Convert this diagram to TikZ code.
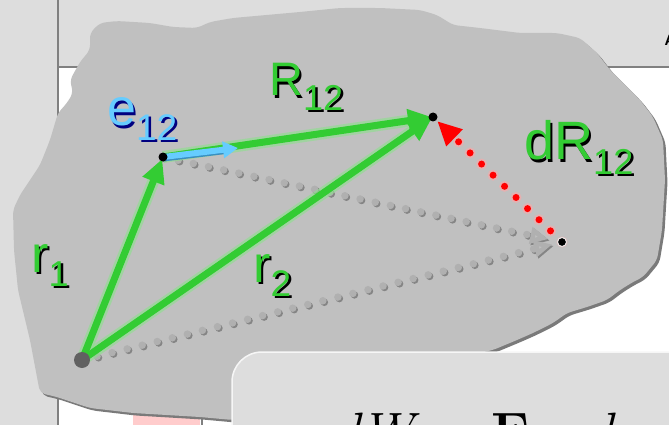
\documentclass[tikz,border=0pt]{standalone}
\usepackage{fontspec}
\setsansfont{Liberation Sans}
\usepackage{xcolor}
\usetikzlibrary{arrows.meta}

\definecolor{panel}{HTML}{DDDDDD}
\definecolor{rule}{HTML}{808080}
\definecolor{rock}{HTML}{C0C0C0}
\definecolor{rockshade}{HTML}{7A7A7A}
\definecolor{vecgreen}{HTML}{33CC33}
\definecolor{glowgreen}{HTML}{8CE08C}
\definecolor{unitblue}{HTML}{66CCFF}
\definecolor{unitshade}{HTML}{000080}
\definecolor{unitdark}{HTML}{3A8FC0}
\definecolor{dotgray}{HTML}{B0B0B0}
\definecolor{dotshade}{HTML}{858585}
\definecolor{pinkish}{HTML}{FFCCCC}

\newcommand\labeltext[4]{{\fontsize{#1}{#1}\selectfont #3}\raisebox{-14pt}{\fontsize{#2}{#2}\selectfont #4}}
\newcommand\shadowed[3]{\rlap{\kern2.5pt\raisebox{-2.5pt}{\color{#2}#3}}{\color{#1}#3}}
\def\rockpath{(90,33) -- (100,23) -- (117,21) -- (150,23) -- (173,27) -- (197,28) -- (210,22) -- (233,18) -- (300,12) -- (340,8) -- (380,8) -- (420,10) -- (437,15) -- (453,25) -- (480,28) -- (520,33) -- (557,33) -- (580,38) -- (597,53) -- (610,70) -- (627,87) -- (640,100) -- (653,117) -- (663,140) -- (665,180) -- (662,230) -- (657,260) -- (643,277) -- (633,282) -- (620,290) -- (607,300) -- (587,307) -- (567,313) -- (553,323) -- (533,333) -- (517,340) -- (493,350) -- (470,355) -- (440,360) -- (400,380) -- (300,415) -- (233,420) -- (200,417) -- (133,413) -- (90,408) -- (57,397) -- (40,393) -- (30,340) -- (18,290) -- (14,250) -- (13,210) -- (20,195) -- (40,165) -- (50,140) -- (58,113) -- (67,103) -- (73,93) -- (70,80) -- (80,62) -- (90,50) -- cycle}

\begin{document}
\begin{tikzpicture}[
    x=1pt, y=-1pt,
    vec/.style={draw=vecgreen, line width=7pt, -{Triangle[length=24pt,width=22pt]}},
    glow/.style={draw=glowgreen, line width=12pt, opacity=.6, shorten >=22pt},
    hidden/.style={draw=dotgray, line width=7.5pt, line cap=round, dash pattern=on 0pt off 15.5pt, -{Triangle[length=18pt,width=16pt,fill=dotgray!80!white]}},
    hiddenshade/.style={hidden, draw=dotshade, transform canvas={shift={(1.5pt,-1.5pt)}}},
    dshift/.style={draw=red, line width=7pt, line cap=round, dash pattern=on 0pt off 16pt, -{Triangle[length=24pt,width=22pt,fill=red]}},
    dshiftglow/.style={draw=red!35, line width=11pt, line cap=round, dash pattern=on 0pt off 16pt, opacity=.6},
    unit/.style={draw=unitblue, line width=6pt, -{Triangle[length=15pt,width=16pt]}},
    point/.style={circle, fill=black, inner sep=0pt, minimum size=9pt},
    vlabel/.style={anchor=base west, inner sep=0pt, font=\sffamily}
]
\useasboundingbox (0,0) rectangle (669,425);
\clip (0,0) rectangle (669,425);

\fill[white] (0,0) rectangle (669,425);
\fill[panel] (0,0) rectangle (58,425);
\fill[panel] (58,0) rectangle (669,67);
\draw[rule, line width=2.5pt] (58,0) -- (58,425);
\draw[rule, line width=2.5pt] (58,67) -- (669,67);
\fill[pinkish] (133,413) rectangle (200,425);
\draw[rule, line width=1.5pt] (202,418) -- (202,425);
\node[anchor=base west, inner sep=0pt, font=\sffamily\bfseries\fontsize{15}{15}\selectfont] (title) at (664.5,46) {A};

\fill[rockshade, rounded corners=5pt, transform canvas={shift={(2.5pt,-2.5pt)}}] \rockpath;
\fill[rock, rounded corners=5pt] \rockpath;

\coordinate (O) at (82,360);
\coordinate (B) at (163,157);
\coordinate (C) at (433,117);
\coordinate (D) at (562,242);
\coordinate (E) at (238,148);

\path [hiddenshade, shorten >=14pt] (B) -- (D);
\path [hidden, shorten >=14pt] (B) -- (D);
\path [hiddenshade, shorten >=10pt] (O) -- (D);
\path [hidden, shorten >=10pt] (O) -- (D);

\path [glow] (O) -- (B);
\path [glow] (O) -- (C);
\path [glow] (B) -- (C);
\path [vec, shorten >=2pt] (O) -- (B);
\path [vec, shorten >=1pt] (O) -- (C);
\path [vec, shorten >=1pt] (B) -- (C);

\path [draw=unitdark, line width=6pt, shorten >=12pt, transform canvas={shift={(0pt,-1.5pt)}}] (B) -- (E);
\path [unit] (B) -- (E);

\path [dshiftglow, shorten >=20pt] (D) -- (C);
\path [dshift, shorten >=6pt] (D) -- (C);

\node[point, minimum size=16pt, fill=black!62] (Odot) at (O) {};
\node[point] (Bdot) at (B) {};
\node[point] (Cdot) at (C) {};
\node[point, draw=white!85!gray, line width=1pt] (Ddot) at (D) {};

\node[vlabel] (r1) at (31,272) {\shadowed{vecgreen}{black}{\labeltext{52}{36}{r}{1}}};
\node[vlabel] (r2) at (253,282) {\shadowed{vecgreen}{black}{\labeltext{52}{37}{r}{2}}};
\node[vlabel] (R12) at (269,96) {\shadowed{vecgreen}{black}{\labeltext{47}{36}{R}{12}}};
\node[vlabel] (e12) at (107,126) {\shadowed{unitblue}{unitshade}{\labeltext{52}{37}{e}{12}}};
\node[vlabel] (dR12) at (524,160) {\shadowed{vecgreen}{black}{\labeltext{54}{36}{dR}{12}}};

\draw[draw=white!93!gray, fill=panel, line width=1.5pt, rounded corners=30pt] (232,352) rectangle (740,500);
\node[anchor=base west, inner sep=0pt, font=\fontsize{54}{54}\selectfont] (work) at (333,450) {\textit{dW} = \textbf{F}\,·\,\textit{d}};
\end{tikzpicture}
\end{document}
